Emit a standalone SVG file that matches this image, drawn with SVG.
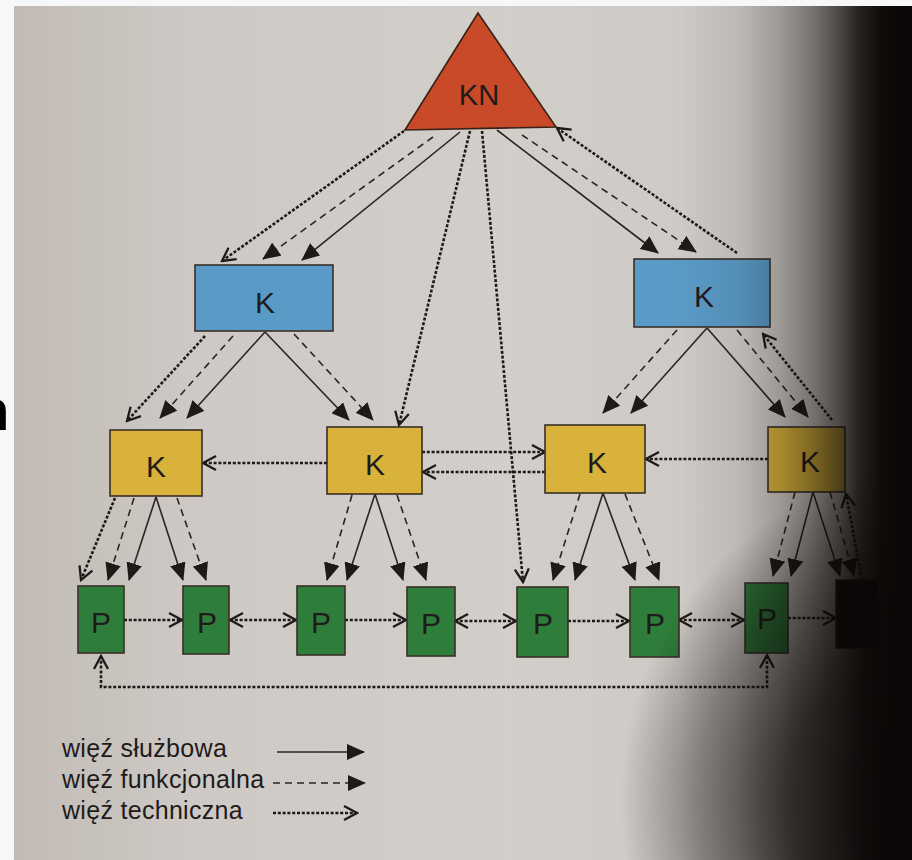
<svg xmlns="http://www.w3.org/2000/svg" width="912" height="860" viewBox="0 0 912 860">
<style>
.txt{font-family:"Liberation Sans",Arial,"DejaVu Sans",sans-serif;fill:#1e1b1a}
.lbl{font-size:30px;text-anchor:middle}
.leg{font-size:25px;letter-spacing:0.3px}
.box{stroke:#3a2f28;stroke-width:1.6}
.kb{fill:#5a9ac6}
.ky{fill:#d8b23a}
.pg{fill:#2f7d3a}
.s{stroke:#2a2522;stroke-width:1.6;fill:none;marker-end:url(#af)}
.f{stroke:#2a2522;stroke-width:1.6;stroke-dasharray:7 5;fill:none;marker-end:url(#af)}
.t{stroke:#1e1a18;stroke-width:2.6;stroke-dasharray:3 1.8;fill:none;marker-end:url(#ao)}
.tb{marker-start:url(#aos)}
</style>
<defs>
<marker id="af" viewBox="0 0 18 16" refX="17" refY="8" markerWidth="18" markerHeight="16" markerUnits="userSpaceOnUse" orient="auto"><path d="M0,0 L18,8 L0,16 z" fill="#1e1a18"/></marker>
<marker id="ao" viewBox="-2 -2 17 18" refX="13" refY="7" markerWidth="17" markerHeight="18" markerUnits="userSpaceOnUse" orient="auto"><path d="M0,0 L13,7 L0,14" fill="none" stroke="#1e1a18" stroke-width="2.3" stroke-dasharray="none"/></marker>
<marker id="aos" viewBox="-2 -2 17 18" refX="13" refY="7" markerWidth="17" markerHeight="18" markerUnits="userSpaceOnUse" orient="auto-start-reverse"><path d="M0,0 L13,7 L0,14" fill="none" stroke="#1e1a18" stroke-width="2.3" stroke-dasharray="none"/></marker>
<linearGradient id="page" gradientUnits="userSpaceOnUse" x1="14" y1="0" x2="912" y2="0">
<stop offset="0" stop-color="#c2bbb5"/><stop offset="0.2" stop-color="#cec9c5"/><stop offset="0.55" stop-color="#d2ceca"/><stop offset="1" stop-color="#c9c4bf"/>
</linearGradient>
<linearGradient id="shadeH" gradientUnits="userSpaceOnUse" x1="680" y1="0" x2="900" y2="0">
<stop offset="0" stop-color="#0a0706" stop-opacity="0"/>
<stop offset="0.27" stop-color="#0a0706" stop-opacity="0.08"/>
<stop offset="0.455" stop-color="#0a0706" stop-opacity="0.24"/>
<stop offset="0.59" stop-color="#0a0706" stop-opacity="0.42"/>
<stop offset="0.727" stop-color="#0a0706" stop-opacity="0.66"/>
<stop offset="0.818" stop-color="#0a0706" stop-opacity="0.87"/>
<stop offset="0.91" stop-color="#0a0706" stop-opacity="0.97"/>
<stop offset="1" stop-color="#0a0706" stop-opacity="1"/>
</linearGradient>
<radialGradient id="shadeR" gradientUnits="userSpaceOnUse" cx="960" cy="800" r="340">
<stop offset="0" stop-color="#0a0706" stop-opacity="0.9"/>
<stop offset="0.5" stop-color="#0a0706" stop-opacity="0.72"/>
<stop offset="0.78" stop-color="#0a0706" stop-opacity="0.35"/>
<stop offset="1" stop-color="#0a0706" stop-opacity="0"/>
</radialGradient>
</defs>

<g id="background">
<rect x="0" y="0" width="912" height="860" fill="#f7f7f7"/>
<rect x="14" y="6" width="898" height="854" fill="url(#page)"/>
<text x="-26" y="430" font-family="Liberation Sans,Arial,sans-serif" font-weight="bold" font-size="58" fill="#000">n</text>
</g>

<g id="connectors">
<path class="t" d="M404,131 L222,261"/>
<path class="f" d="M433,137 L263,259"/>
<path class="s" d="M460,132 L302,260"/>
<path class="s" d="M497,130 L658,253"/>
<path class="f" d="M522,135 L696,252"/>
<path class="t" d="M737,253 L557,128"/>
<path class="t" d="M470,131 L399,425"/>
<path class="t" d="M482,131 L523,582"/>

<path class="t" d="M205,336 L127,421"/>
<path class="f" d="M233,336 L160,418"/>
<path class="s" d="M265,332 L187,418"/>
<path class="s" d="M265,332 L349,420"/>
<path class="f" d="M294,334 L373,420"/>

<path class="f" d="M677,330 L603,413"/>
<path class="s" d="M707,328 L631,413"/>
<path class="s" d="M707,328 L785,417"/>
<path class="f" d="M737,330 L808,417"/>
<path class="t" d="M832,420 L763,334"/>

<path class="t" d="M327,463 L203,463"/>
<path class="t" d="M422,452 L545,452"/>
<path class="t" d="M545,472 L423,472"/>
<path class="t" d="M768,459 L646,459"/>

<path class="t" d="M115,498 L81,580"/>
<path class="f" d="M134,498 L108,580"/>
<path class="s" d="M156,497 L129,580"/>
<path class="s" d="M156,497 L183,580"/>
<path class="f" d="M177,498 L206,580"/>

<path class="f" d="M352,495 L327,580"/>
<path class="s" d="M375,494 L347,580"/>
<path class="s" d="M375,494 L403,580"/>
<path class="f" d="M397,495 L426,580"/>

<path class="f" d="M580,494 L553,580"/>
<path class="s" d="M603,493 L575,580"/>
<path class="s" d="M603,493 L635,580"/>
<path class="f" d="M625,494 L659,580"/>

<path class="f" d="M795,492 L773,576"/>
<path class="s" d="M813,492 L791,576"/>
<path class="s" d="M813,492 L840,576"/>
<path class="f" d="M830,492 L854,576"/>
<path class="t" d="M862,580 L846,494"/>

<path class="t" d="M124,620 L182,620"/>
<path class="t tb" d="M230,620 L296,620"/>
<path class="t" d="M345,620 L406,620"/>
<path class="t tb" d="M455,621 L516,621"/>
<path class="t" d="M568,621 L629,621"/>
<path class="t tb" d="M679,620 L744,620"/>
<path class="t" d="M788,618 L836,618"/>
<path class="t tb" d="M101,656 L101,687 L767,687 L767,655"/>
</g>

<g id="node-KN">
<polygon points="478,13 405,130 556,127" fill="#c94a28" stroke="#3a2218" stroke-width="1.6"/>
<text class="txt" x="479" y="105" font-size="29" text-anchor="middle">KN</text>
</g>
<g id="node-K-blue-left">
<rect class="box kb" x="195" y="265" width="138" height="66"/>
<text class="txt lbl" x="265" y="313">K</text>
</g>
<g id="node-K-blue-right">
<rect class="box kb" x="634" y="259" width="136" height="68"/>
<text class="txt lbl" x="704" y="307">K</text>
</g>
<g id="node-K-yellow-1">
<rect class="box ky" x="110" y="430" width="92" height="66"/>
<text class="txt lbl" x="156" y="477">K</text>
</g>
<g id="node-K-yellow-2">
<rect class="box ky" x="327" y="427" width="95" height="67"/>
<text class="txt lbl" x="375" y="475">K</text>
</g>
<g id="node-K-yellow-3">
<rect class="box ky" x="545" y="425" width="100" height="68"/>
<text class="txt lbl" x="597" y="473">K</text>
</g>
<g id="node-K-yellow-4">
<rect class="box ky" x="768" y="427" width="77" height="65"/>
<text class="txt lbl" x="810" y="472">K</text>
</g>
<g id="node-P1"><rect class="box pg" x="78" y="586" width="46" height="67"/><text class="txt lbl" x="101" y="633">P</text></g>
<g id="node-P2"><rect class="box pg" x="183" y="586" width="46" height="68"/><text class="txt lbl" x="207" y="633">P</text></g>
<g id="node-P3"><rect class="box pg" x="297" y="586" width="48" height="69"/><text class="txt lbl" x="321" y="633">P</text></g>
<g id="node-P4"><rect class="box pg" x="407" y="587" width="48" height="69"/><text class="txt lbl" x="431" y="634">P</text></g>
<g id="node-P5"><rect class="box pg" x="517" y="587" width="51" height="70"/><text class="txt lbl" x="543" y="634">P</text></g>
<g id="node-P6"><rect class="box pg" x="630" y="587" width="49" height="70"/><text class="txt lbl" x="655" y="634">P</text></g>
<g id="node-P7"><rect class="box pg" x="745" y="583" width="43" height="70"/><text class="txt lbl" x="767" y="629">P</text></g>
<g id="node-P8"><rect class="box" x="836" y="580" width="42" height="68" fill="#0c0c0a"/></g>

<g id="legend">
<text class="txt leg" x="62" y="757">więź służbowa</text>
<text class="txt leg" x="62" y="788">więź funkcjonalna</text>
<text class="txt leg" x="62" y="819">więź techniczna</text>
<path class="s" d="M277,752 L364,752"/>
<path class="f" d="M273,783 L365,783"/>
<path class="t" d="M273,813 L357,813"/>
</g>

<g id="page-shadow">
<rect x="14" y="6" width="898" height="854" fill="url(#shadeH)"/>
<rect x="14" y="6" width="898" height="854" fill="url(#shadeR)"/>
</g>
</svg>
